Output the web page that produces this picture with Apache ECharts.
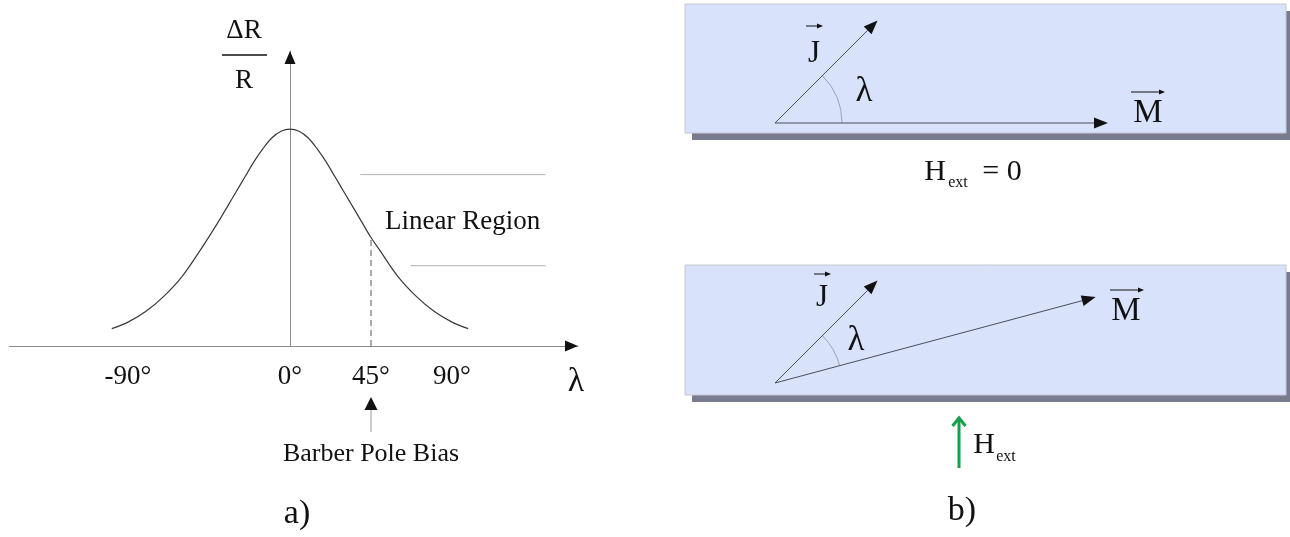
<!DOCTYPE html>
<html>
<head>
<meta charset="utf-8">
<script src="https://cdn.jsdelivr.net/npm/echarts@6/dist/echarts.min.js"></script>
<style>
  html, body { margin: 0; padding: 0; background: #ffffff; }
  #c { width: 1290px; height: 537px; }
</style>
</head>
<body>
<div id="c"></div>
<script>
// ---- a) magnetoresistance response ΔR/R versus angle λ (relative units, peak = 100)
const curveAngles = [-99, -90, -80, -70, -60, -50, -40, -30, -25, -20, -15, -10, -5, 0, 5, 10, 15, 20, 25, 30, 40, 45, 50, 60, 70, 80, 90, 99];
const curveValues = [8, 11, 16, 23, 32, 44, 57, 71, 78, 85, 91, 96, 99, 100, 99, 96, 91, 85, 78, 71, 57, 50, 44, 32, 23, 16, 11, 8];
const tickAngles = [-90, 0, 45, 90];
const biasAngle = 45;
// edges of the linear region: [start angle, level, end angle]
const linearUpper = [39, 79, 142];
const linearLower = [67, 37, 142];

// ---- b) current J and magnetisation M vectors, without and with an external field
const jAngle = [45, 45];      // degrees
const mAngle = [0, 15];       // degrees
const jLength = [145, 145];
const mLength = [333, 332];
const hLength = [0, 50];      // H_ext = 0 in the upper strip

const FONT = '"Liberation Serif", "Times New Roman", serif';
const INK = '#111111';

const curveData = curveAngles.map((a, i) => [a, curveValues[i]]);
const biasLevel = curveValues[curveAngles.indexOf(biasAngle)];

// layout of the two strips in panel b) (panel units = px)
const stripOrigins = [[90, 414], [90, 154]];
const strips = [[0, 404, 601, 533], [0, 142, 601, 272]];
const fieldBase = [274, 69];

function triangle(tip, dir, len, wid) {
  const n = [-dir[1], dir[0]];
  const b = [tip[0] - dir[0] * len, tip[1] - dir[1] * len];
  return {
    base: b,
    points: [tip, [b[0] + n[0] * wid / 2, b[1] + n[1] * wid / 2], [b[0] - n[0] * wid / 2, b[1] - n[1] * wid / 2]]
  };
}

// filled arrow head drawn at a data point (used for the axis ends)
function axisHead(params, api) {
  const tip = api.coord([api.value(0), api.value(1)]);
  const a = api.value(2) * Math.PI / 180;
  const h = triangle(tip, [Math.cos(a), -Math.sin(a)], 13, 11);
  return { type: 'polygon', shape: { points: h.points }, style: { fill: INK } };
}

// marker under the axis showing the bias angle
function biasMarker(params, api) {
  const p = api.coord([api.value(0), 0]);
  const h = triangle([p[0], p[1] + 51], [0, -1], 13, 13);
  return {
    type: 'group',
    children: [
      { type: 'polygon', shape: { points: h.points }, style: { fill: INK } },
      { type: 'line', shape: { x1: p[0], y1: p[1] + 64, x2: p[0], y2: p[1] + 86 }, style: { stroke: '#9a9a9a', lineWidth: 1 } },
      { type: 'text', style: { text: 'Barber Pole Bias', x: p[0], y: p[1] + 108, font: '26px ' + FONT, fill: INK, align: 'center', verticalAlign: 'middle' } }
    ]
  };
}

function stripItem(params, api) {
  const tl = api.coord([api.value(0), api.value(3)]);
  const br = api.coord([api.value(2), api.value(1)]);
  const w = br[0] - tl[0], h = br[1] - tl[1];
  return {
    type: 'group',
    children: [
      { type: 'rect', shape: { x: tl[0] + 7, y: tl[1] + 7, width: w, height: h }, style: { fill: '#787c8e' } },
      { type: 'rect', shape: { x: tl[0], y: tl[1], width: w, height: h }, style: { fill: '#d9e2fb', stroke: '#c4c8d4', lineWidth: 1 } }
    ]
  };
}

function vectorItem(params, api) {
  const ox = api.value(0), oy = api.value(1);
  const a = api.value(2) * Math.PI / 180, len = api.value(3);
  const p0 = api.coord([ox, oy]);
  const p1 = api.coord([ox + len * Math.cos(a), oy + len * Math.sin(a)]);
  const d = [p1[0] - p0[0], p1[1] - p0[1]];
  const L = Math.hypot(d[0], d[1]);
  const u = [d[0] / L, d[1] / L];
  const h = triangle(p1, u, 14, 11);
  return {
    type: 'group',
    children: [
      { type: 'line', shape: { x1: p0[0], y1: p0[1], x2: h.base[0], y2: h.base[1] }, style: { stroke: '#4a4d5a', lineWidth: 1 } },
      { type: 'polygon', shape: { points: h.points }, style: { fill: INK } }
    ]
  };
}

function angleArc(params, api) {
  const c = api.coord([api.value(0), api.value(1)]);
  return {
    type: 'arc',
    shape: { cx: c[0], cy: c[1], r: 67, startAngle: -api.value(3) * Math.PI / 180, endAngle: -api.value(2) * Math.PI / 180, clockwise: true },
    style: { stroke: '#9aa2ba', fill: null, lineWidth: 1 }
  };
}

function fieldArrow(params, api) {
  const len = api.value(2);
  if (!len) return null;
  const p0 = api.coord([api.value(0), api.value(1)]);
  const p1 = api.coord([api.value(0), api.value(1) + len]);
  const col = '#14a04c';
  return {
    type: 'group',
    children: [
      { type: 'line', shape: { x1: p0[0], y1: p0[1], x2: p1[0], y2: p1[1] + 1 }, style: { stroke: col, lineWidth: 3 } },
      { type: 'polyline', shape: { points: [[p1[0] - 6.5, p1[1] + 8], [p1[0], p1[1]], [p1[0] + 6.5, p1[1] + 8]] }, style: { stroke: col, lineWidth: 3, fill: null } }
    ]
  };
}

const vectorData = [];
const arcData = [];
stripOrigins.forEach((o, i) => {
  vectorData.push([o[0], o[1], jAngle[i], jLength[i]]);
  vectorData.push([o[0], o[1], mAngle[i], mLength[i]]);
  arcData.push([o[0], o[1], mAngle[i], jAngle[i]]);
});

function txt(x, y, text, size, extra) {
  return {
    type: 'text', silent: true, z: 10,
    style: Object.assign({ text: text, x: x, y: y, font: size + 'px ' + FONT, fill: INK, align: 'center', verticalAlign: 'middle' }, extra || {})
  };
}
// small vector arrow written over a letter
function overArrow(x1, x2, y) {
  return [
    { type: 'line', silent: true, z: 10, shape: { x1: x1, y1: y, x2: x2 - 4, y2: y }, style: { stroke: INK, lineWidth: 1 } },
    { type: 'polygon', silent: true, z: 10, shape: { points: [[x2, y], [x2 - 6, y - 2.5], [x2 - 6, y + 2.5]] }, style: { fill: INK } }
  ];
}

const option = {
  backgroundColor: '#ffffff',
  animation: false,
  grid: [
    { left: 9.2, top: 51, width: 568.8, height: 295, containLabel: false, outerBoundsMode: 'none' },
    { left: 685, top: 0, width: 605, height: 537, containLabel: false, outerBoundsMode: 'none' }
  ],
  xAxis: [
    {
      gridIndex: 0, type: 'value', min: -156, max: 160,
      axisLine: { show: true, onZero: true, lineStyle: { color: '#8a8a8a', width: 1 } },
      axisTick: { show: false },
      splitLine: { show: false },
      axisLabel: {
        customValues: tickAngles,
        formatter: v => v + '°',
        fontFamily: FONT, fontSize: 27, color: INK, margin: 17
      }
    },
    { gridIndex: 1, type: 'value', min: 0, max: 605, show: false }
  ],
  yAxis: [
    {
      gridIndex: 0, type: 'value', min: 0, max: 136,
      axisLine: { show: true, onZero: true, lineStyle: { color: '#8a8a8a', width: 1 } },
      axisTick: { show: false }, axisLabel: { show: false }, splitLine: { show: false }
    },
    { gridIndex: 1, type: 'value', min: 0, max: 537, show: false }
  ],
  series: [
    {
      name: 'ΔR/R', type: 'line', xAxisIndex: 0, yAxisIndex: 0,
      data: curveData, smooth: 0.35, showSymbol: false, silent: true,
      lineStyle: { color: '#3a3a3a', width: 1.2 }
    },
    {
      name: 'bias', type: 'line', xAxisIndex: 0, yAxisIndex: 0,
      data: [[biasAngle, 0], [biasAngle, biasLevel]], showSymbol: false, silent: true,
      lineStyle: { color: '#555555', width: 1, type: [6, 4] }
    },
    {
      name: 'linear upper', type: 'line', xAxisIndex: 0, yAxisIndex: 0,
      data: [[linearUpper[0], linearUpper[1]], [linearUpper[2], linearUpper[1]]], showSymbol: false, silent: true,
      lineStyle: { color: '#b0b0b0', width: 1 }
    },
    {
      name: 'linear lower', type: 'line', xAxisIndex: 0, yAxisIndex: 0,
      data: [[linearLower[0], linearLower[1]], [linearLower[2], linearLower[1]]], showSymbol: false, silent: true,
      lineStyle: { color: '#b0b0b0', width: 1 }
    },
    {
      name: 'axis heads', type: 'custom', xAxisIndex: 0, yAxisIndex: 0, clip: false, silent: true,
      data: [[160, 0, 0], [0, 136, 90]], renderItem: axisHead
    },
    {
      name: 'bias marker', type: 'custom', xAxisIndex: 0, yAxisIndex: 0, clip: false, silent: true,
      data: [[biasAngle, 0]], renderItem: biasMarker
    },
    {
      name: 'strips', type: 'custom', xAxisIndex: 1, yAxisIndex: 1, clip: false, silent: true,
      data: strips, renderItem: stripItem
    },
    {
      name: 'angle', type: 'custom', xAxisIndex: 1, yAxisIndex: 1, clip: false, silent: true,
      data: arcData, renderItem: angleArc
    },
    {
      name: 'vectors', type: 'custom', xAxisIndex: 1, yAxisIndex: 1, clip: false, silent: true,
      data: vectorData, renderItem: vectorItem
    },
    {
      name: 'H_ext', type: 'custom', xAxisIndex: 1, yAxisIndex: 1, clip: false, silent: true,
      data: hLength.map(l => [fieldBase[0], fieldBase[1], l]), renderItem: fieldArrow
    }
  ],
  graphic: [
    // a)
    txt(244, 31, 'ΔR', 27),
    { type: 'line', silent: true, z: 10, shape: { x1: 222, y1: 55, x2: 267, y2: 55 }, style: { stroke: INK, lineWidth: 1.5 } },
    txt(244, 81, 'R', 27),
    txt(576, 382, 'λ', 34),
    txt(385, 222, 'Linear Region', 27, { align: 'left' }),
    txt(297, 514, 'a)', 34),
    // b) upper strip
    txt(814, 54, 'J', 31), ...overArrow(806, 823, 26),
    txt(864, 92, 'λ', 35),
    txt(1148, 113, 'M', 33), ...overArrow(1131, 1165, 92),
    txt(935, 172, 'H', 30), txt(958, 183, 'ext', 16), txt(1002, 172, '= 0', 30),
    // b) lower strip
    txt(822, 298, 'J', 31), ...overArrow(814, 831, 274),
    txt(856, 341, 'λ', 35),
    txt(1126, 311, 'M', 33), ...overArrow(1110, 1144, 290),
    txt(984, 445, 'H', 30), txt(1006, 457, 'ext', 16),
    txt(962, 511, 'b)', 34)
  ]
};

const chart = echarts.init(document.getElementById('c'));
chart.setOption(option);
</script>
</body>
</html>
